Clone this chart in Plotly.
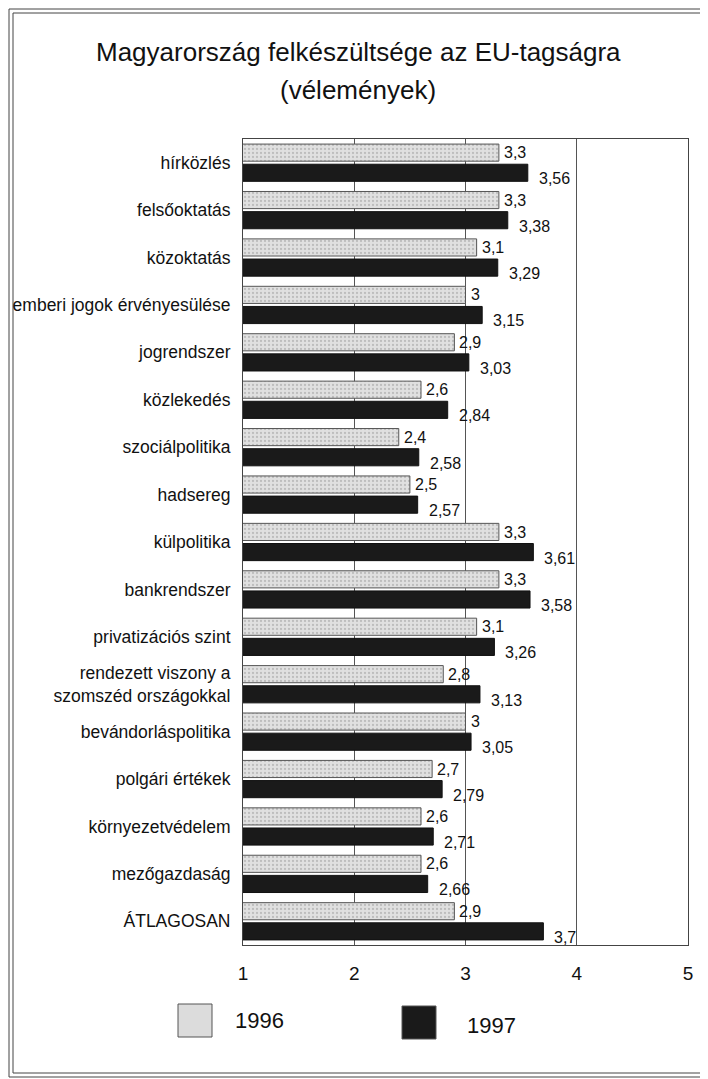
import plotly.graph_objects as go

categories = [
    "hírközlés", "felsőoktatás", "közoktatás", "emberi jogok érvényesülése",
    "jogrendszer", "közlekedés", "szociálpolitika", "hadsereg", "külpolitika",
    "bankrendszer", "privatizációs szint", "rendezett viszony a<br>szomszéd országokkal",
    "bevándorláspolitika", "polgári értékek", "környezetvédelem", "mezőgazdaság", "ÁTLAGOSAN",
]
values_1996 = [3.3, 3.3, 3.1, 3, 2.9, 2.6, 2.4, 2.5, 3.3, 3.3, 3.1, 2.8, 3, 2.7, 2.6, 2.6, 2.9]
values_1997 = [3.56, 3.38, 3.29, 3.15, 3.03, 2.84, 2.58, 2.57, 3.61, 3.58, 3.26, 3.13, 3.05, 2.79, 2.71, 2.66, 3.7]
series_names = ["1996", "1997"]
x_ticks = [1, 2, 3, 4, 5]
title_lines = ["Magyarország felkészültsége az EU-tagságra", "(vélemények)"]

FONT = "Liberation Sans Narrow, Arial Narrow, Liberation Sans, Arial, sans-serif"
W, H = 708, 1079
L, R, T, B = 235, 28, 131, 142


def fmt(v):
    return f"{v:g}".replace(".", ",")


fig = go.Figure()
fig.add_trace(go.Bar(
    y=categories, x=values_1996, orientation="h", name=series_names[0],
    marker=dict(color="#e0e0e0", line=dict(color="#555555", width=1),
                pattern=dict(shape=".", fgcolor="#999999", bgcolor="#e0e0e0", size=4, solidity=0.25)),
))
fig.add_trace(go.Bar(
    y=categories, x=values_1997, orientation="h", name=series_names[1],
    marker=dict(color="#1a1a1a", line=dict(color="#111111", width=1)),
))

# value labels (1996 beside the light bar, 1997 a little lower/right of the dark bar)
for cat, v96, v97 in zip(categories, values_1996, values_1997):
    fig.add_annotation(x=v96, y=cat, xref="x", yref="y", text=fmt(v96), showarrow=False,
                       xanchor="left", yanchor="middle", xshift=3, yshift=10,
                       font=dict(family=FONT, size=16, color="#111111"))
    fig.add_annotation(x=v97, y=cat, xref="x", yref="y", text=fmt(v97), showarrow=False,
                       xanchor="left", yanchor="middle", xshift=9, yshift=-16,
                       font=dict(family=FONT, size=16, color="#111111"))

fig.update_layout(
    width=W, height=H,
    margin=dict(l=L, r=R, t=T, b=B, autoexpand=False),
    paper_bgcolor="white", plot_bgcolor="white",
    barmode="group", bargap=0.15, bargroupgap=0.15,
    showlegend=False,
    font=dict(family=FONT, color="#111111"),
    xaxis=dict(
        range=[1, 5], tickvals=x_ticks, ticktext=[str(t) for t in x_ticks],
        showgrid=True, gridcolor="#555555", gridwidth=1, zeroline=False,
        showline=True, linecolor="#444444", linewidth=1, mirror=True, automargin=False,
        ticks="", ticklabelstandoff=11, tickfont=dict(family=FONT, size=19, color="#111111"),
    ),
    yaxis=dict(
        range=[len(categories) - 0.5, -0.5], autorange=False,
        showgrid=False, zeroline=False,
        showline=True, linecolor="#444444", linewidth=1, mirror=True, automargin=False,
        ticks="", ticklabelstandoff=8, tickfont=dict(family=FONT, size=17.5, color="#111111"),
    ),
)

pw, ph = W - L - R, H - T - B
def px_x(p):
    return (p - L) / pw
def px_y(p):
    return (H - B - p) / ph

# title (two lines)
for line, cy in zip(title_lines, [44, 82]):
    fig.add_annotation(xref="paper", yref="paper", x=px_x(350), y=px_y(cy),
                       xanchor="center", yanchor="middle", showarrow=False,
                       text=line, font=dict(family=FONT, size=26, color="#111111"))

# outer double frame
for off in (1, 5):
    fig.add_shape(type="rect", xref="paper", yref="paper",
                  x0=px_x(off), x1=px_x(698 - off), y0=px_y(1070 - off), y1=px_y(off),
                  line=dict(color="#444444", width=1), fillcolor="rgba(0,0,0,0)", layer="below")

# legend (custom, large swatches)
legend_items = [
    (series_names[0], "#dcdcdc", 170, 996, 225, 1012),
    (series_names[1], "#1a1a1a", 394, 998, 457, 1017),
]
for name, color, sx, sy, tx, ty in legend_items:
    fig.add_shape(type="rect", xref="paper", yref="paper",
                  x0=px_x(sx), x1=px_x(sx + 34), y0=px_y(sy + 33), y1=px_y(sy),
                  line=dict(color="#555555", width=1), fillcolor=color)
    fig.add_annotation(xref="paper", yref="paper", x=px_x(tx), y=px_y(ty),
                       xanchor="left", yanchor="middle", showarrow=False,
                       text=name, font=dict(family=FONT, size=22, color="#111111"))

fig.write_html("out.html")
